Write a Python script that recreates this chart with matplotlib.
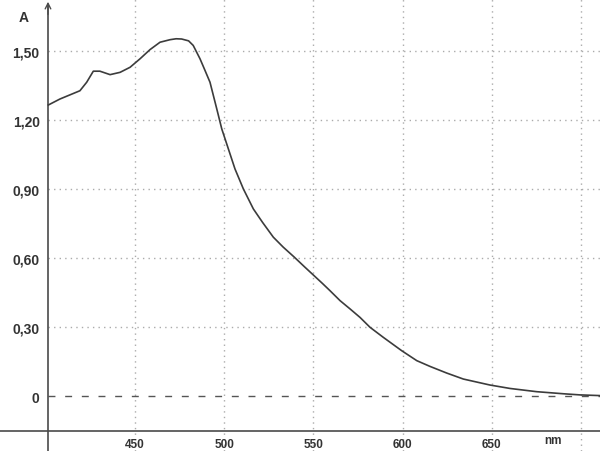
import matplotlib
matplotlib.use("Agg")
import matplotlib.pyplot as plt

# absorbance spectrum
wavelength = [401.4, 407.9, 413.5, 419.1, 422.9, 426.6, 430.3, 436, 441.6, 447.2,
              452.8, 458.4, 464, 469.6, 473, 476.1, 480, 482.6, 486.4, 489, 492,
              495.8, 498.6, 502.3, 506, 510.7, 516.3, 521.5, 527.5, 533, 539,
              545, 550, 555, 559.3, 564.9, 570.5, 576.1, 581.7, 589.2, 599.5,
              607.9, 615.3, 624.7, 634, 648.9, 660.2, 675.1, 690, 699.4, 710.6]
absorbance = [1.266, 1.292, 1.310, 1.328, 1.365, 1.413, 1.413, 1.398, 1.408, 1.43,
              1.467, 1.507, 1.539, 1.550, 1.554, 1.553, 1.545, 1.525, 1.467, 1.42,
              1.365, 1.249, 1.162, 1.075, 0.988, 0.901, 0.814, 0.755, 0.691, 0.648,
              0.606, 0.562, 0.526, 0.49, 0.458, 0.415, 0.379, 0.342, 0.299, 0.255,
              0.197, 0.154, 0.129, 0.100, 0.074, 0.048, 0.033, 0.019, 0.010, 0.005,
              0.002]
x_grid = [450, 500, 550, 600, 650, 700]
x_labels = ["450", "500", "550", "600", "650", ""]
y_ticks = [0, 0.30, 0.60, 0.90, 1.20, 1.50]
y_labels = ["0", "0,30", "0,60", "0,90", "1,20", "1,50"]

x0, y0 = 401.2, -0.151      # where the axes cross
axis_col = "#4a4a4a"
grid_col = "#ababab"

fig = plt.figure(figsize=(6, 4.52), dpi=100)
ax = fig.add_axes([0, 0, 1, 1])
ax.set_xlim(374.3, 710.6)
ax.set_ylim(-0.239, 1.727)

# dotted grid
for x in x_grid:
    ax.plot([x, x], [-0.239, 1.727], color=grid_col, lw=1, ls=(0, (1, 3)), zorder=1)
for y in y_ticks[1:]:
    ax.plot([x0, 710.6], [y, y], color=grid_col, lw=1, ls=(0, (1, 3)), zorder=1)
ax.plot([x0, 710.6], [0, 0], color="#555555", lw=1, ls=(0, (5, 7)), zorder=1)

ax.plot(wavelength, absorbance, color="#3c3c3c", lw=1.2, zorder=3)

# axes crossing like the instrument software
for s in ["top", "right"]:
    ax.spines[s].set_visible(False)
ax.spines["left"].set_position(("data", x0))
ax.spines["bottom"].set_position(("data", y0))
ax.spines["left"].set_bounds(-0.239, 1.70)
for s in ["left", "bottom"]:
    ax.spines[s].set_color(axis_col)
    ax.spines[s].set_linewidth(1.2)
ax.annotate("", xy=(x0, 1.715), xytext=(x0, 1.66),
            arrowprops=dict(arrowstyle="->", color=axis_col, lw=1.0,
                            shrinkA=0, shrinkB=0))

ax.set_xticks(x_grid)
ax.set_xticklabels(x_labels)
ax.set_yticks(y_ticks)
ax.set_yticklabels(y_labels)
ax.tick_params(length=0)
ax.tick_params(axis="y", pad=6)
ax.tick_params(axis="x", pad=5)
for lab in ax.get_yticklabels():
    lab.set_fontfamily("Liberation Sans")
    lab.set_fontweight("bold")
    lab.set_fontsize(10)
    lab.set_color("#333333")
for lab in ax.get_xticklabels():
    lab.set_fontfamily("Liberation Sans")
    lab.set_fontweight("bold")
    lab.set_fontsize(8.5)
    lab.set_color("#333333")

fig.text(24 / 600, 1 - 18 / 452, "A", ha="center", va="center",
         fontfamily="Liberation Sans", fontweight="bold", fontsize=10, color="#333333")
fig.text(553 / 600, 1 - 441 / 452, "nm", ha="center", va="center",
         fontfamily="Liberation Sans", fontweight="bold", fontsize=8.5, color="#333333")

fig.savefig("out.png", dpi=100)
